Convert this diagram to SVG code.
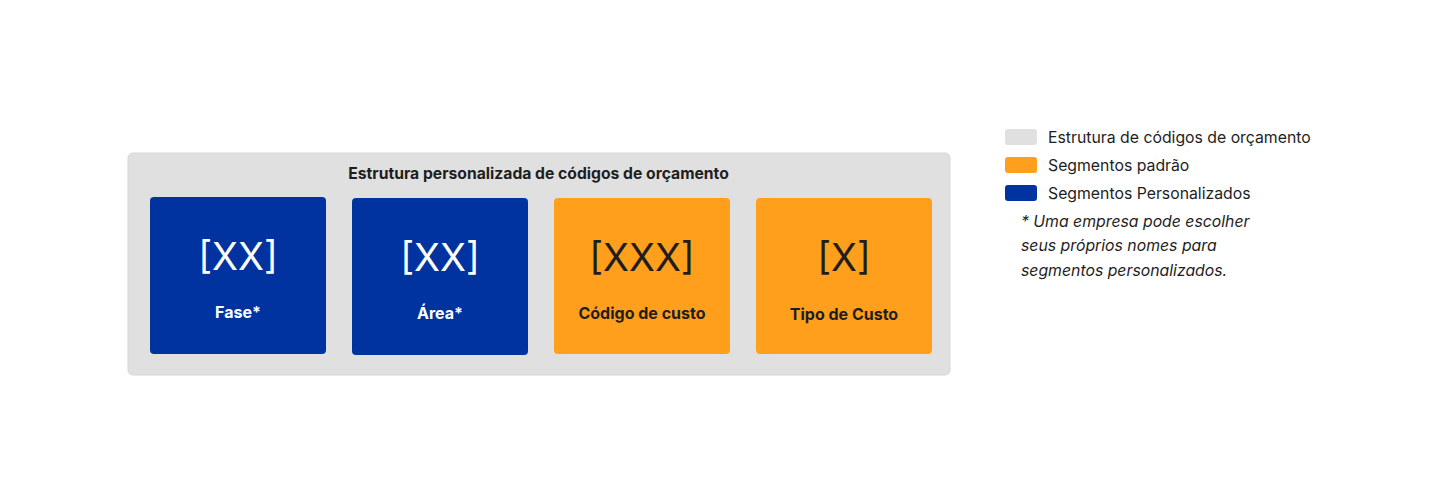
<svg xmlns="http://www.w3.org/2000/svg" width="1439" height="503" viewBox="0 0 1439 503">
<style>
text{font-family:Inter,"Liberation Sans",sans-serif;fill:#1e1e1e}
.code{font-size:38px;text-anchor:middle}
.lbl{font-size:16px;font-weight:700;text-anchor:middle}
.title{font-size:15.7px;font-weight:700;text-anchor:middle}
.w{fill:#ffffff}
.blue{fill:#0033a0}
.orange{fill:#ff9f1c}
.leg{font-size:15.8px}
.note{font-size:15.8px;font-style:italic}
</style>
<rect width="1439" height="503" fill="#ffffff"/>
<g id="container">
<rect x="128" y="153" width="822" height="222" rx="5" fill="#e0e0e0" stroke="#d6d6d6" stroke-width="1"/>
<text x="538.5" y="179" class="title">Estrutura personalizada de códigos de orçamento</text>
</g>
<g id="fase">
<rect x="150" y="197" width="176" height="157" rx="4" class="blue"/>
<text x="238" y="270" class="code w">[XX]</text>
<text x="238" y="318" class="lbl w">Fase*</text>
</g>
<g id="area">
<rect x="352" y="198" width="176" height="157" rx="4" class="blue"/>
<text x="440" y="271" class="code w">[XX]</text>
<text x="440" y="319" class="lbl w">Área*</text>
</g>
<g id="codigo">
<rect x="554" y="198" width="176" height="156" rx="4" class="orange"/>
<text x="642" y="271" class="code">[XXX]</text>
<text x="642" y="319" class="lbl">Código de custo</text>
</g>
<g id="tipo">
<rect x="756" y="198" width="176" height="156" rx="4" class="orange"/>
<text x="844" y="271" class="code">[X]</text>
<text x="844" y="320" class="lbl">Tipo de Custo</text>
</g>
<g id="connectors"></g>
<g id="legend">
<rect x="1005" y="129" width="32" height="16" rx="3" fill="#e0e0e0"/>
<text x="1048" y="143" class="leg">Estrutura de códigos de orçamento</text>
<rect x="1005" y="157" width="32" height="16" rx="3" class="orange"/>
<text x="1048" y="171" class="leg">Segmentos padrão</text>
<rect x="1005" y="185" width="32" height="16" rx="3" class="blue"/>
<text x="1048" y="199" class="leg">Segmentos Personalizados</text>
<text x="1021" y="227" class="note">* Uma empresa pode escolher</text>
<text x="1021" y="251" class="note">seus próprios nomes para</text>
<text x="1021" y="276" class="note">segmentos personalizados.</text>
</g>
</svg>
